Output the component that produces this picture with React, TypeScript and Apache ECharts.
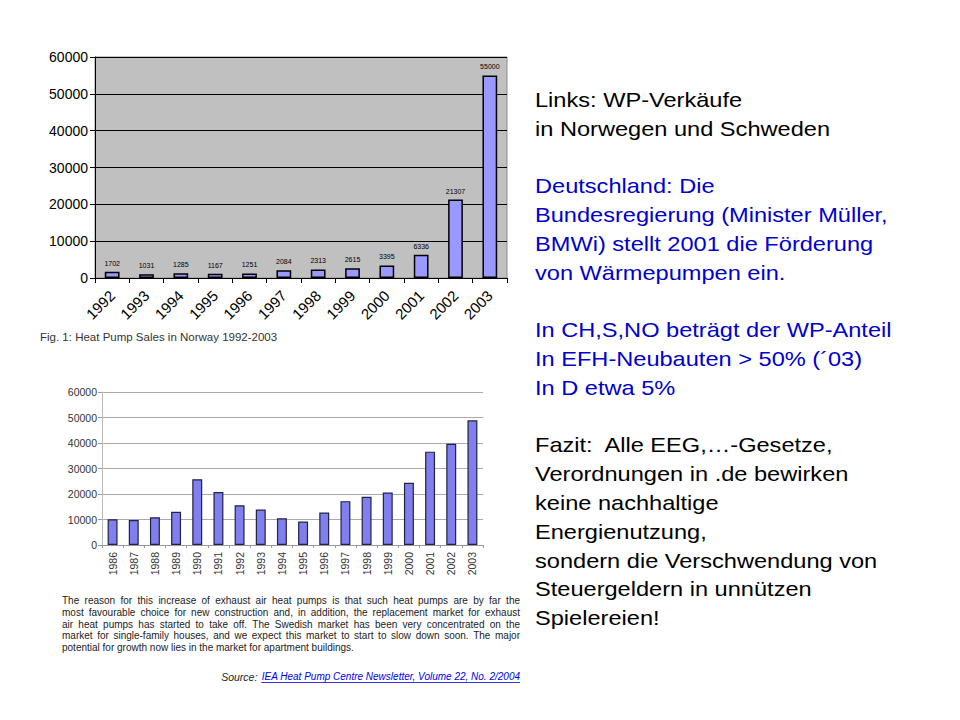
import React, { useEffect, useRef } from "react";
import * as echarts from "echarts";

const norwayYears = ["1992", "1993", "1994", "1995", "1996", "1997", "1998", "1999", "2000", "2001", "2002", "2003"];
const norwaySales = [1702, 1031, 1285, 1167, 1251, 2084, 2313, 2615, 3395, 6336, 21307, 55000];

const swedenYears = ["1986", "1987", "1988", "1989", "1990", "1991", "1992", "1993", "1994", "1995", "1996", "1997", "1998", "1999", "2000", "2001", "2002", "2003"];
const swedenSales = [10100, 9800, 10900, 13000, 25800, 20800, 15600, 13900, 10500, 9200, 12700, 17200, 18900, 20600, 24400, 36600, 39700, 48900];

const figCaption = "Fig. 1: Heat Pump Sales in Norway 1992-2003";

const paragraphLines = [
  "The  reason for this increase of exhaust air heat pumps is that such heat pumps are by far the",
  "most favourable choice for new construction and, in addition, the replacement market for exhaust",
  "air heat pumps has started to take off. The Swedish market has been very concentrated on the",
  "market for single-family houses, and we expect this market to start to slow down soon. The major",
  "potential for growth now lies in the market for apartment buildings.",
];
const sourceLabel = "Source:";
const sourceLink = "IEA Heat Pump Centre Newsletter, Volume 22, No. 2/2004";

const rightText: { text: string; color: string }[] = [
  { text: "Links: WP-Verkäufe", color: "#000000" },
  { text: "in Norwegen und Schweden", color: "#000000" },
  { text: "", color: "#000000" },
  { text: "Deutschland: Die", color: "#0000cc" },
  { text: "Bundesregierung (Minister Müller,", color: "#0000cc" },
  { text: "BMWi) stellt 2001 die Förderung", color: "#0000cc" },
  { text: "von Wärmepumpen ein.", color: "#0000cc" },
  { text: "", color: "#000000" },
  { text: "In CH,S,NO beträgt der WP-Anteil", color: "#0000cc" },
  { text: "In EFH-Neubauten > 50% (´03)", color: "#0000cc" },
  { text: "In D etwa 5%", color: "#0000cc" },
  { text: "", color: "#000000" },
  { text: "Fazit:  Alle EEG,…-Gesetze,", color: "#000000" },
  { text: "Verordnungen in .de bewirken", color: "#000000" },
  { text: "keine nachhaltige", color: "#000000" },
  { text: "Energienutzung,", color: "#000000" },
  { text: "sondern die Verschwendung von", color: "#000000" },
  { text: "Steuergeldern in unnützen", color: "#000000" },
  { text: "Spielereien!", color: "#000000" },
];

const FONT = "Arial, 'Liberation Sans', Helvetica, sans-serif";

export default function App() {
  const ref = useRef<HTMLDivElement>(null);

  useEffect(() => {
    document.body.style.margin = "0";
    const chart = echarts.init(ref.current!, null, { renderer: "svg" });

    const graphics: any[] = [];
    rightText.forEach((l, i) => {
      if (!l.text) return;
      graphics.push({
        type: "text",
        x: 535,
        y: 100 + i * 28.8,
        scaleX: 1.18,
        style: { text: l.text, fill: l.color, font: `20px ${FONT}`, verticalAlign: "middle" },
      });
    });
    graphics.push({
      type: "text",
      x: 40,
      y: 337,
      style: { text: figCaption, fill: "#333333", font: `11.5px ${FONT}`, verticalAlign: "middle" },
    });

    // justified paragraph
    const paraFont = `10px ${FONT}`;
    const ctx = document.createElement("canvas").getContext("2d")!;
    ctx.font = paraFont;
    const pLeft = 62;
    const pRight = 520;
    paragraphLines.forEach((t, i) => {
      const y = 600.7 + i * 11.65;
      const words = t.split(/\s+/).filter((w) => w.length);
      const last = i === paragraphLines.length - 1;
      if (last || words.length < 2) {
        graphics.push({
          type: "text",
          x: pLeft,
          y,
          style: { text: t, fill: "#222222", font: paraFont, verticalAlign: "middle" },
        });
        return;
      }
      const widths = words.map((w) => ctx.measureText(w).width);
      const total = widths.reduce((a, b) => a + b, 0);
      const gap = (pRight - pLeft - total) / (words.length - 1);
      let x = pLeft;
      words.forEach((w, k) => {
        graphics.push({
          type: "text",
          x,
          y,
          style: { text: w, fill: "#222222", font: paraFont, verticalAlign: "middle" },
        });
        x += widths[k] + gap;
      });
    });

    // source line
    const linkFont = `italic 10px ${FONT}`;
    ctx.font = linkFont;
    const linkW = ctx.measureText(sourceLink).width;
    const linkX = 520 - linkW;
    graphics.push({
      type: "text",
      x: 520,
      y: 676.5,
      style: { text: sourceLink, fill: "#0000ee", font: linkFont, align: "right", verticalAlign: "middle" },
    });
    graphics.push({
      type: "text",
      x: linkX - 4,
      y: 676.5,
      style: { text: sourceLabel, fill: "#222222", font: `italic 10.5px ${FONT}`, align: "right", verticalAlign: "middle" },
    });
    graphics.push({
      type: "line",
      shape: { x1: linkX, y1: 682.5, x2: 520, y2: 682.5 },
      style: { stroke: "#0000ee", lineWidth: 0.8 },
    });

    chart.setOption({
      animation: false,
      backgroundColor: "#ffffff",
      textStyle: { fontFamily: FONT },
      grid: [
        {
          left: 95,
          top: 57,
          width: 412,
          height: 221,
          show: true,
          backgroundColor: "#c0c0c0",
          borderColor: "#8a8a8a",
          borderWidth: 1,
        },
        {
          left: 102,
          top: 392,
          width: 381,
          height: 153,
          show: false,
        },
      ],
      xAxis: [
        {
          type: "category",
          gridIndex: 0,
          data: norwayYears,
          axisLine: { lineStyle: { color: "#000", width: 1 } },
          axisTick: { show: true, length: 5, lineStyle: { color: "#000" } },
          axisLabel: { rotate: 45, fontSize: 15, color: "#000", margin: 15, fontFamily: FONT },
        },
        {
          type: "category",
          gridIndex: 1,
          data: swedenYears,
          axisLine: { lineStyle: { color: "#999", width: 1 } },
          axisTick: { show: true, length: 3, lineStyle: { color: "#999" } },
          axisLabel: { rotate: 90, fontSize: 10.5, color: "#333", margin: 7, fontFamily: FONT },
        },
      ],
      yAxis: [
        {
          type: "value",
          gridIndex: 0,
          min: 0,
          max: 60000,
          interval: 10000,
          axisLine: { show: true, lineStyle: { color: "#000" } },
          axisTick: { show: true, length: 5, lineStyle: { color: "#000" } },
          axisLabel: { fontSize: 14, color: "#000", margin: 7, fontFamily: FONT, formatter: (v: number) => String(v) },
          splitLine: { show: true, lineStyle: { color: "#000", width: 1 } },
        },
        {
          type: "value",
          gridIndex: 1,
          min: 0,
          max: 60000,
          interval: 10000,
          axisLine: { show: true, lineStyle: { color: "#bbb" } },
          axisTick: { show: true, length: 4, lineStyle: { color: "#999" } },
          axisLabel: { fontSize: 10.5, color: "#333", margin: 5, fontFamily: FONT, formatter: (v: number) => String(v) },
          splitLine: { show: true, lineStyle: { color: "#aaa", width: 1 } },
        },
      ],
      series: [
        {
          type: "bar",
          xAxisIndex: 0,
          yAxisIndex: 0,
          data: norwaySales,
          barWidth: "43%",
          itemStyle: { color: "#9999ff", borderColor: "#000", borderWidth: 1.5 },
          label: { show: true, position: "top", fontSize: 7, color: "#000", distance: 5, fontFamily: FONT },
        },
        {
          type: "bar",
          xAxisIndex: 1,
          yAxisIndex: 1,
          data: swedenSales,
          barWidth: "47%",
          itemStyle: { color: "#7f7ff0", borderColor: "#222244", borderWidth: 1.2 },
        },
      ],
      graphic: graphics,
    });

    return () => chart.dispose();
  }, []);

  return <div ref={ref} style={{ width: 960, height: 720 }} />;
}
